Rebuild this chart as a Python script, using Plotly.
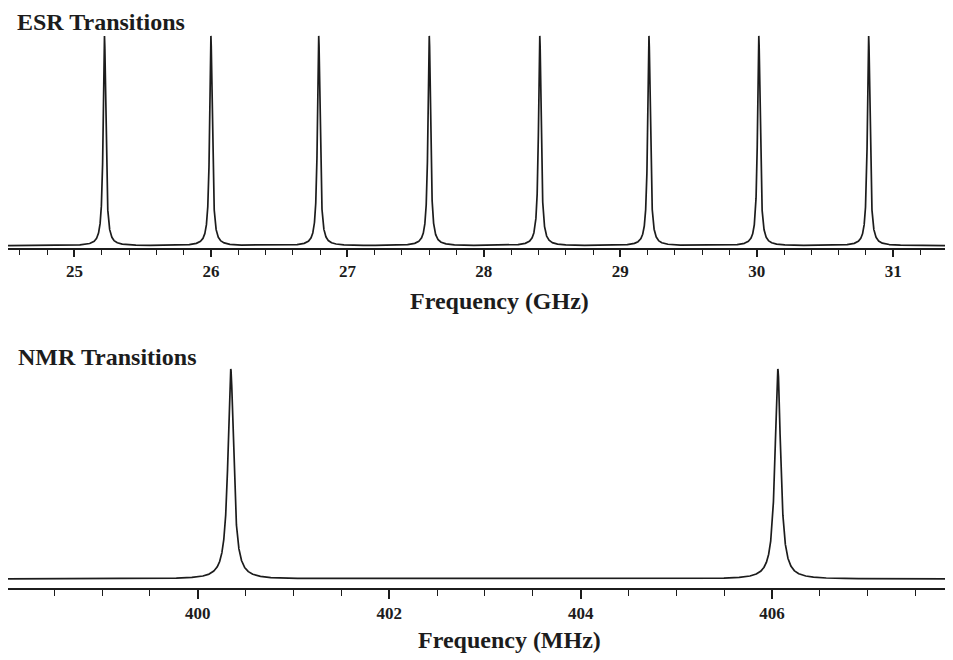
import numpy as np
import plotly.graph_objects as go

# ---- data ----
esr_centers_ghz = [25.22, 26.00, 26.79, 27.60, 28.41, 29.21, 30.015, 30.82]
esr_hwhm_ghz = 0.011
esr_range = [24.513, 31.438]
esr_ticks = [25, 26, 27, 28, 29, 30, 31]

nmr_centers_mhz = [400.345, 406.06]
nmr_hwhm_mhz = 0.035
nmr_range = [398.018, 407.89]
nmr_ticks = [400, 402, 404, 406]


def spectrum(centers, hwhm, lo, hi, n=24000):
    x = np.union1d(np.linspace(lo, hi, n), np.array(centers))
    y = np.zeros_like(x)
    for c in centers:
        y += 1.0 / (1.0 + ((x - c) / hwhm) ** 2)
    return x, y


ex, ey = spectrum(esr_centers_ghz, esr_hwhm_ghz, *esr_range)
nx, ny = spectrum(nmr_centers_mhz, nmr_hwhm_mhz, *nmr_range)

# the page body adds an 8px offset; the figure is sized to fit the window
OFF = 8
W, H = 953 - OFF, 660 - OFF
FONT = "Liberation Serif"
INK = "#1c1c1c"

fig = go.Figure()
fig.add_trace(go.Scatter(x=ex, y=ey, mode="lines", line=dict(color=INK, width=1.7),
                         xaxis="x", yaxis="y", hoverinfo="skip"))
fig.add_trace(go.Scatter(x=nx, y=ny, mode="lines", line=dict(color=INK, width=1.7),
                         xaxis="x2", yaxis="y2", hoverinfo="skip"))


def py(page_y):
    return 1 - (page_y - OFF) / H


def px(page_x):
    return (page_x - OFF) / W


axis_common = dict(showgrid=False, zeroline=False, showline=True, linecolor=INK, linewidth=2,
                   ticks="outside", tickcolor=INK, tickwidth=1.5,
                   tickfont=dict(family=FONT, size=17, color=INK, weight="bold"))

fig.update_layout(
    width=W, height=H,
    margin=dict(l=0, r=0, t=0, b=0),
    paper_bgcolor="white", plot_bgcolor="white",
    showlegend=False,
    xaxis=dict(range=esr_range, tickvals=esr_ticks, ticklen=7,
               minor=dict(dtick=0.2, tick0=25, ticks="outside", ticklen=5, tickcolor=INK, tickwidth=1.2),
               anchor="y", **axis_common),
    yaxis=dict(domain=[py(248), py(30)], range=[-0.011, 1.0286], visible=False),
    xaxis2=dict(range=nmr_range, tickvals=nmr_ticks, ticklen=9,
                minor=dict(dtick=0.5, tick0=400, ticks="outside", ticklen=6, tickcolor=INK, tickwidth=1.2),
                anchor="y2", **axis_common),
    yaxis2=dict(domain=[py(587.7), py(360)], range=[-0.0414, 1.043], visible=False),
)

title_font = dict(family=FONT, size=24, color=INK, weight="bold")
ann = [
    dict(text="ESR Transitions", x=16, y=OFF, xanchor="left", yanchor="top", pad=0),
    dict(text="NMR Transitions", x=16, y=357, xanchor="left", yanchor="middle", pad=1),
    dict(text="Frequency (GHz)", x=499.5, y=301, xanchor="center", yanchor="middle", pad=1),
    dict(text="Frequency (MHz)", x=509.5, y=640, xanchor="center", yanchor="middle", pad=1),
]
for a in ann:
    fig.add_annotation(text=a["text"], xref="paper", yref="paper",
                       x=px(a["x"]), y=py(a["y"]),
                       xanchor=a["xanchor"], yanchor=a["yanchor"], showarrow=False,
                       borderpad=a["pad"], font=title_font)

fig.write_html("out.html")
